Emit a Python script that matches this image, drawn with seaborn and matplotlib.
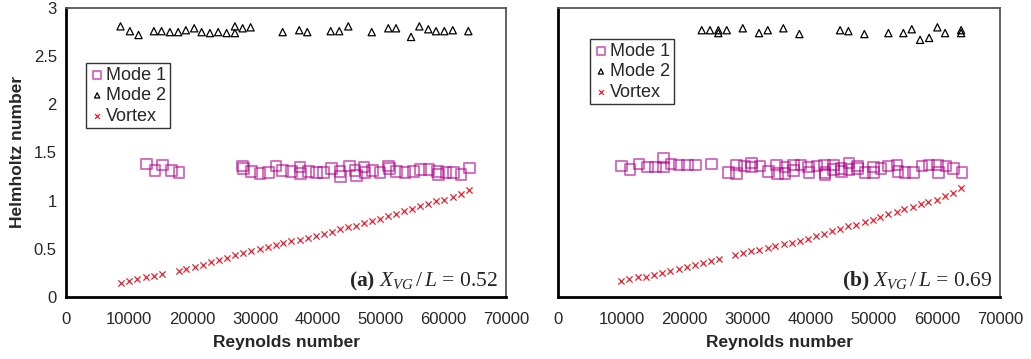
import numpy as np
import pandas as pd
import matplotlib
matplotlib.use("Agg")
import matplotlib.pyplot as plt
import seaborn as sns

sns.set_style("white")
plt.rcParams['font.family'] = ['Liberation Sans', 'DejaVu Sans']
plt.rcParams['mathtext.fontset'] = 'custom'
plt.rcParams['mathtext.rm'] = 'Liberation Serif'
plt.rcParams['mathtext.it'] = 'Liberation Serif:italic'
plt.rcParams['mathtext.bf'] = 'Liberation Serif:bold'


# panel (a) X_VG/L = 0.52
a_mode1_re = [12740, 14070, 15290, 16720, 17890,
              28040, 28140, 29470, 30800, 32120, 33350, 34410, 35840, 37170, 37270,
              38490, 39820, 40880, 42210, 43540, 43640, 45020, 45920, 46190, 47360,
              47520, 48750, 49910, 51240, 51400, 52570, 53890, 55220, 56390, 57720,
              59100, 59210, 60430, 61590, 62810, 64140]
a_mode1_he = [1.38, 1.31, 1.37, 1.31, 1.29,
              1.36, 1.33, 1.30, 1.28, 1.29, 1.36, 1.31, 1.30, 1.35, 1.28,
              1.30, 1.29, 1.29, 1.33, 1.30, 1.25, 1.36, 1.31, 1.26, 1.35,
              1.29, 1.31, 1.29, 1.36, 1.33, 1.30, 1.29, 1.30, 1.32, 1.32,
              1.30, 1.27, 1.29, 1.29, 1.27, 1.34]

a_mode2_re = [8600, 10090, 11470, 13910, 15130, 16460, 17780, 19000, 20330, 21510,
              22830, 24150, 25490, 26810, 26810, 28040, 29310, 34410, 37050, 38330,
              42060, 43420, 44860, 48590, 51230, 52460, 54850, 56170, 57600, 58830,
              60150, 61490, 63970]
a_mode2_he = [2.81, 2.76, 2.72, 2.76, 2.76, 2.75, 2.75, 2.77, 2.79, 2.75,
              2.74, 2.75, 2.74, 2.74, 2.81, 2.79, 2.80, 2.75, 2.77, 2.75,
              2.76, 2.76, 2.81, 2.75, 2.79, 2.79, 2.70, 2.81, 2.78, 2.76,
              2.76, 2.77, 2.76]

a_vortex_re = [8650, 9950, 11250, 12600, 13900, 15200,
               17850, 19100, 20400, 21700, 23000, 24300, 25550, 26850, 28150, 29450,
               30800, 32050, 33300, 34500, 35800, 37150, 38450, 39750, 41050, 42300,
               43600, 44850, 46150, 47400, 48700, 49950, 51250, 52500, 53800, 55050,
               56300, 57600, 58900, 60150, 61500, 62750, 64050]
a_vortex_he = [0.14, 0.16, 0.18, 0.20, 0.22, 0.24,
               0.27, 0.29, 0.31, 0.33, 0.36, 0.38, 0.40, 0.43, 0.45, 0.47,
               0.50, 0.52, 0.54, 0.56, 0.58, 0.59, 0.61, 0.63, 0.65, 0.67,
               0.70, 0.72, 0.74, 0.77, 0.79, 0.81, 0.84, 0.86, 0.89, 0.91,
               0.94, 0.96, 0.99, 1.01, 1.04, 1.07, 1.11]

# panel (b) X_VG/L = 0.69
b_mode1_re = [10050, 11370, 12790, 14170, 15440, 16640, 16640, 17860, 19130, 20510,
              21780, 24310, 26950, 28280, 28280, 29480, 30650, 30650, 31970, 33290,
              34610, 34770, 35930, 35930, 37250, 37250, 38470, 39630, 39730, 40960,
              42160, 42270, 42270, 43590, 43590, 44810, 44910, 46080, 46080, 47450,
              47450, 48610, 49930, 49930, 51150, 52310, 53640, 53800, 54950, 56270,
              57600, 58760, 60130, 60240, 61400, 62610, 63940]
b_mode1_he = [1.36, 1.32, 1.38, 1.35, 1.35, 1.44, 1.35, 1.38, 1.37, 1.37,
              1.37, 1.38, 1.29, 1.37, 1.28, 1.36, 1.39, 1.35, 1.36, 1.30,
              1.37, 1.28, 1.35, 1.28, 1.37, 1.31, 1.37, 1.35, 1.29, 1.36,
              1.37, 1.29, 1.27, 1.37, 1.32, 1.33, 1.30, 1.39, 1.32, 1.36,
              1.33, 1.29, 1.35, 1.29, 1.33, 1.36, 1.37, 1.30, 1.29, 1.29,
              1.36, 1.37, 1.37, 1.29, 1.36, 1.33, 1.29]

b_mode2_re = [22730, 24040, 25360, 25360, 26690, 29230, 31810, 33190, 35660, 38200,
              44650, 45970, 48500, 52310, 54680, 56010, 57330, 58760, 60070, 61290,
              63830, 63830]
b_mode2_he = [2.77, 2.77, 2.77, 2.74, 2.77, 2.79, 2.74, 2.77, 2.79, 2.73,
              2.77, 2.76, 2.73, 2.74, 2.74, 2.78, 2.67, 2.69, 2.80, 2.74,
              2.77, 2.74]

b_vortex_re = [9950, 11250, 12600, 13900, 15150, 16400, 17750, 19050, 20350, 21700,
               23000, 24200, 25450,
               28000, 29250, 30550, 31850, 33150, 34350, 35700, 37050, 38300, 39600,
               40850, 42150, 43400, 44700, 45950, 47250, 48550, 49800, 51050, 52300,
               53600, 54850, 56150, 57400, 58650, 59950, 61200, 62500, 63800]
b_vortex_he = [0.16, 0.18, 0.20, 0.21, 0.23, 0.25, 0.27, 0.29, 0.31, 0.33,
               0.35, 0.37, 0.39,
               0.43, 0.45, 0.47, 0.49, 0.51, 0.53, 0.55, 0.56, 0.58, 0.60,
               0.63, 0.65, 0.68, 0.70, 0.73, 0.75, 0.78, 0.80, 0.83, 0.86,
               0.88, 0.91, 0.93, 0.96, 0.98, 1.01, 1.05, 1.08, 1.13]

x_ticks = [0, 10000, 20000, 30000, 40000, 50000, 60000, 70000]
y_ticks = [0, 0.5, 1, 1.5, 2, 2.5, 3]
y_ticklabels = ['0', '0.5', '1', '1.5', '2', '2.5', '3']

MAGENTA = '#b3008c'
RED = '#e3202e'


def draw_panel(ax, m1x, m1y, m2x, m2y, vx, vy, tag, ratio, leg_pos):
    sns.scatterplot(x=m1x, y=m1y, ax=ax, marker='s', s=58, facecolors='none',
                    edgecolor=MAGENTA, linewidth=1.3, alpha=0.6, label='Mode 1')
    sns.scatterplot(x=m2x, y=m2y, ax=ax, marker='^', s=27, facecolors='none',
                    edgecolor='black', linewidth=0.9, label='Mode 2')
    sns.scatterplot(x=vx, y=vy, ax=ax, marker='x', s=20, color=RED,
                    linewidth=0.9, label='Vortex')

    ax.set_xlim(0, 70000)
    ax.set_ylim(0, 3)
    ax.set_xticks(x_ticks)
    ax.set_xticklabels([str(t) for t in x_ticks])
    ax.set_yticks(y_ticks)
    ax.tick_params(axis='both', direction='inout', length=6, width=1.2,
                   labelsize=12, color='black', pad=4)
    ax.tick_params(axis='x', pad=8)

    for side in ['left', 'bottom']:
        ax.spines[side].set_linewidth(2)
        ax.spines[side].set_color('black')
    for side in ['top', 'right']:
        ax.spines[side].set_linewidth(1.3)
        ax.spines[side].set_color('#555555')

    ax.set_xlabel('Reynolds number', fontsize=12.5, fontweight='bold', labelpad=6)

    leg = ax.legend(loc='upper left', bbox_to_anchor=leg_pos, borderaxespad=0,
                    frameon=True, fancybox=False, edgecolor='black', fontsize=13,
                    handletextpad=0.1, borderpad=0.2, labelspacing=0.2,
                    handlelength=0.8)
    leg.get_frame().set_linewidth(1.0)
    for h, sz in zip(leg.legend_handles, [32, 14, 12]):
        h.set_sizes([sz])

    ax.text(0.982, 0.034, r'$\mathbf{(%s)}\ X_{VG}\,/\,L\,=\,%s$' % (tag, ratio),
            transform=ax.transAxes, ha='right', va='baseline', fontsize=15.5)


fig = plt.figure(figsize=(10.31, 3.59), dpi=100)
ax1 = fig.add_axes([0.0645, 0.1735, 0.4265, 0.804])
ax2 = fig.add_axes([0.5415, 0.1735, 0.4285, 0.804])

draw_panel(ax1, a_mode1_re, a_mode1_he, a_mode2_re, a_mode2_he,
           a_vortex_re, a_vortex_he, 'a', '0.52', (0.045, 0.81))
ax1.set_yticklabels(y_ticklabels)
ax1.set_ylabel('Helmholtz number', fontsize=12.5, fontweight='bold', labelpad=6)

draw_panel(ax2, b_mode1_re, b_mode1_he, b_mode2_re, b_mode2_he,
           b_vortex_re, b_vortex_he, 'b', '0.69', (0.072, 0.893))
ax2.set_yticklabels([])

fig.savefig('out.png', dpi=100)
